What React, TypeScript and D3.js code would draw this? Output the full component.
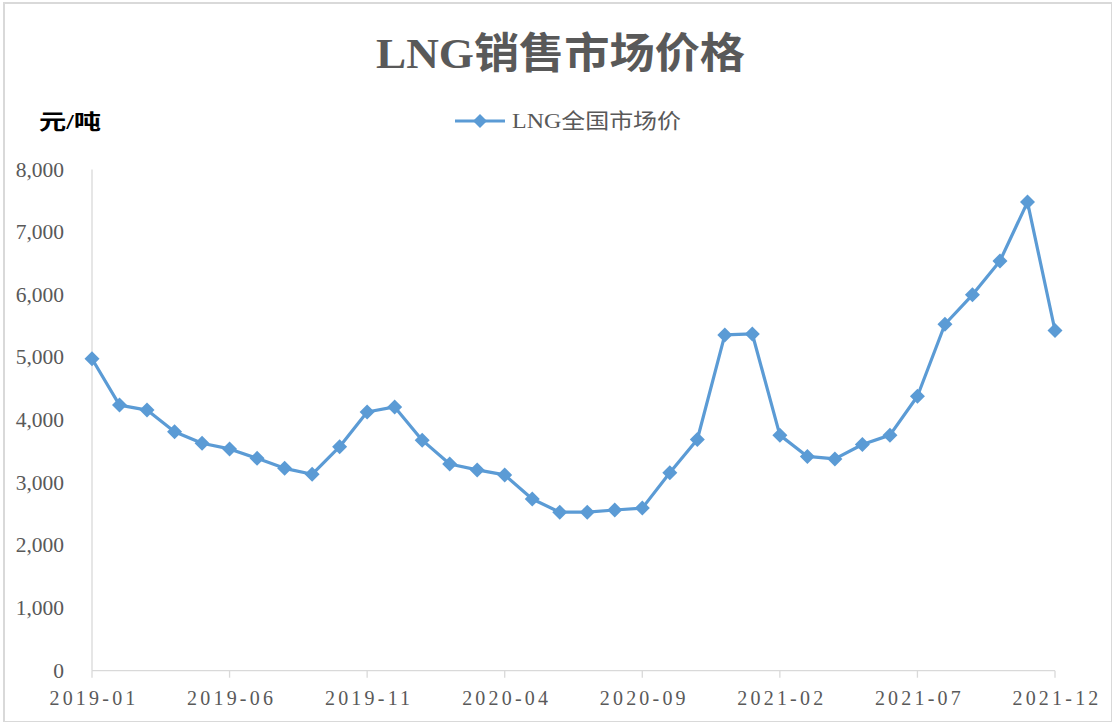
import React from "react";
import * as d3 from "d3";

const months: string[] = [
  "2019-01","2019-02","2019-03","2019-04","2019-05","2019-06","2019-07","2019-08","2019-09","2019-10","2019-11","2019-12",
  "2020-01","2020-02","2020-03","2020-04","2020-05","2020-06","2020-07","2020-08","2020-09","2020-10","2020-11","2020-12",
  "2021-01","2021-02","2021-03","2021-04","2021-05","2021-06","2021-07","2021-08","2021-09","2021-10","2021-11","2021-12",
];
const prices: number[] = [
  4980, 4240, 4160, 3815, 3630, 3540, 3390, 3230, 3135, 3575, 4130, 4210,
  3680, 3300, 3205, 3125, 2740, 2530, 2530, 2565, 2595, 3160, 3690, 5360,
  5375, 3760, 3420, 3380, 3610, 3760, 4380, 5530, 6000, 6540, 7480, 5430,
];
const xTickLabels: string[] = ["2019-01","2019-06","2019-11","2020-04","2020-09","2021-02","2021-07","2021-12"];
const yTicks: number[] = [0, 1000, 2000, 3000, 4000, 5000, 6000, 7000, 8000];

const W = 1112, H = 722;
const left = 92, right = 1055, top = 169.5, bottom = 670.7;
const serif = "'Liberation Serif', 'Times New Roman', 'Noto Sans CJK SC', serif";
const textColor = "#595959";
const lineColor = "#5B9BD5";
const axisColor = "#d9d9d9";

export default function App() {
  const x = d3.scalePoint<string>().domain(months).range([left, right]);
  const y = d3.scaleLinear().domain([0, 8000]).range([bottom, top]);
  const line = d3.line<number>().x((_, i) => x(months[i]) as number).y((d) => y(d));
  const diamond = (cx: number, cy: number, r: number) =>
    `M${cx},${cy - r}L${cx + r},${cy}L${cx},${cy + r}L${cx - r},${cy}Z`;
  const fmt = d3.format(",");

  return (
    <svg width={W} height={H} style={{ position: "fixed", left: 0, top: 0, background: "#fff" }}>
      <rect x={0} y={0} width={W} height={H} fill="#fff" />
      <rect x={4} y={3} width={W - 4} height={H - 3} fill="none" stroke={axisColor} strokeWidth={2} />
      <text x={376} y={68} fontFamily={serif} fontWeight="bold" fontSize={42} fill={textColor}
        textLength={369} lengthAdjust="spacingAndGlyphs">
        LNG销售市场价格
      </text>
      <text x={39} y={129} fontFamily={serif} fontWeight="bold" fontSize={21} fill="#000"
        textLength={62} lengthAdjust="spacingAndGlyphs">
        元/吨
      </text>
      <g>
        <line x1={455} x2={505} y1={121} y2={121} stroke={lineColor} strokeWidth={3} />
        <path d={diamond(480, 121, 7)} fill={lineColor} />
        <text x={512} y={128} fontFamily={serif} fontSize={21} fill={textColor}
          textLength={169} lengthAdjust="spacingAndGlyphs">LNG全国市场价</text>
      </g>
      <line x1={left} x2={left} y1={top} y2={bottom} stroke={axisColor} strokeWidth={1.3} />
      <line x1={left} x2={right} y1={bottom} y2={bottom} stroke={axisColor} strokeWidth={1.3} />
      {xTickLabels.map((m) => (
        <g key={m}>
          <line x1={x(m)} x2={x(m)} y1={bottom} y2={bottom + 7} stroke={axisColor} strokeWidth={1.3} />
          <text x={(x(m) as number) + 2} y={705} textAnchor="middle" fontFamily={serif} fontSize={20}
            letterSpacing={3.2} fill={textColor}>{m}</text>
        </g>
      ))}
      {yTicks.map((t) => (
        <text key={t} x={64} y={y(t) + 7} textAnchor="end" fontFamily={serif} fontSize={21.5} fill={textColor}>
          {fmt(t)}
        </text>
      ))}
      <path d={line(prices) || ""} fill="none" stroke={lineColor} strokeWidth={3.2} strokeLinejoin="round" />
      {prices.map((p, i) => (
        <path key={i} d={diamond(x(months[i]) as number, y(p), 7.5)} fill={lineColor} />
      ))}
    </svg>
  );
}
